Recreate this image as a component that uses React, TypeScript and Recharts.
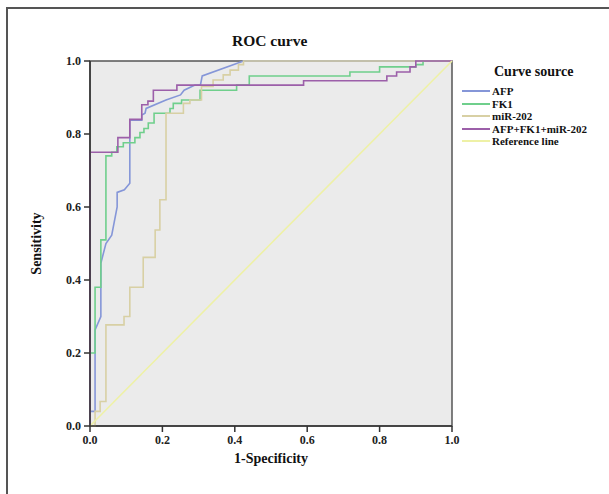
import React from 'react';
import { LineChart, Line, XAxis, YAxis, ReferenceArea } from 'recharts';

// ROC points: false positive rate (x) and sensitivity (y)
const afpX = [0, 0, 0.014, 0.014, 0.03, 0.03, 0.044, 0.06, 0.075, 0.075, 0.095, 0.11, 0.11, 0.143, 0.143, 0.152, 0.155, 0.21, 0.25, 0.26, 0.29, 0.305, 0.31, 0.424, 1];
const afpY = [0, 0.04, 0.04, 0.263, 0.3, 0.446, 0.5, 0.523, 0.6, 0.64, 0.647, 0.665, 0.838, 0.838, 0.852, 0.857, 0.87, 0.893, 0.907, 0.92, 0.934, 0.934, 0.959, 1, 1];

const fk1X = [0, 0, 0.014, 0.03, 0.044, 0.06, 0.074, 0.092, 0.124, 0.138, 0.149, 0.161, 0.177, 0.221, 0.23, 0.253, 0.304, 0.405, 0.44, 0.718, 0.8, 0.9, 0.92, 1];
const fk1Y = [0, 0.2, 0.38, 0.51, 0.74, 0.75, 0.765, 0.776, 0.79, 0.804, 0.815, 0.83, 0.857, 0.87, 0.884, 0.893, 0.92, 0.934, 0.959, 0.97, 0.984, 0.99, 1, 1];

const mirX = [0, 0.014, 0.028, 0.044, 0.094, 0.11, 0.147, 0.18, 0.193, 0.21, 0.258, 0.276, 0.308, 0.34, 0.368, 0.387, 0.41, 0.424, 1];
const mirY = [0, 0.04, 0.067, 0.277, 0.3, 0.38, 0.462, 0.537, 0.62, 0.857, 0.884, 0.893, 0.93, 0.948, 0.962, 0.975, 0.99, 1, 1];

const comboX = [0, 0, 0.077, 0.11, 0.143, 0.16, 0.175, 0.24, 0.59, 0.82, 0.847, 0.884, 0.9, 1];
const comboY = [0, 0.75, 0.79, 0.84, 0.88, 0.89, 0.92, 0.934, 0.946, 0.959, 0.97, 0.984, 1, 1];

const refX = [0, 1];
const refY = [0, 1];

const ticks = [0, 0.2, 0.4, 0.6, 0.8, 1];

const toPoints = (xs: number[], ys: number[]) => xs.map((x, i) => ({ x, y: ys[i] }));

const series = [
  { name: 'AFP', color: '#8596d8', data: toPoints(afpX, afpY), type: 'linear' },
  { name: 'FK1', color: '#6fcf8c', data: toPoints(fk1X, fk1Y), type: 'stepAfter' },
  { name: 'miR-202', color: '#d8d0a4', data: toPoints(mirX, mirY), type: 'stepAfter' },
  { name: 'AFP+FK1+miR-202', color: '#9c5fa9', data: toPoints(comboX, comboY), type: 'stepAfter' },
  { name: 'Reference line', color: '#eef1a6', data: toPoints(refX, refY), type: 'linear' },
];

const font = '"Liberation Serif", "Times New Roman", serif';

function ChartLegend() {
  return (
    <div style={{ position: 'absolute', left: 462, top: 63, fontFamily: font, fontWeight: 'bold', color: '#111' }}>
      <div style={{ fontSize: 14, marginLeft: 32, marginBottom: 4, lineHeight: '18px' }}>Curve source</div>
      {series.map((s) => (
        <div key={s.name} style={{ display: 'flex', alignItems: 'center', height: 12.5, fontSize: 11 }}>
          <span style={{ display: 'inline-block', width: 28, height: 2, background: s.color, marginRight: 2 }} />
          {s.name}
        </div>
      ))}
    </div>
  );
}

export default function App() {
  return (
    <div style={{ position: 'absolute', left: 0, top: 0, width: 609, height: 494, background: '#fff', overflow: 'hidden' }}>
      <div style={{ position: 'absolute', left: 6, top: 7, width: 620, height: 500, borderLeft: '2px solid #555', borderTop: '2px solid #555' }} />
      <div style={{ position: 'absolute', left: 232, top: 32, fontFamily: font, fontWeight: 'bold', fontSize: 15.5, color: '#111' }}>
        ROC curve
      </div>
      <div style={{ position: 'absolute', left: 0, top: 0 }}>
        <LineChart width={609} height={494} margin={{ top: 61, right: 157, bottom: 38, left: 50 }}>
          <XAxis
            type="number"
            dataKey="x"
            domain={[0, 1]}
            ticks={ticks}
            tickFormatter={(v: number) => v.toFixed(1)}
            allowDuplicatedCategory={false}
            height={30}
            tickSize={6}
            tickMargin={3}
            stroke="#333"
            strokeWidth={1.5}
            tick={{ fontFamily: font, fontWeight: 'bold', fontSize: 12, fill: '#222' }}
            label={{ value: '1-Specificity', position: 'insideBottom', offset: -7, style: { fontFamily: font, fontWeight: 'bold', fontSize: 14, fill: '#111' } }}
          />
          <YAxis
            type="number"
            dataKey="y"
            domain={[0, 1]}
            ticks={ticks}
            tickFormatter={(v: number) => v.toFixed(1)}
            width={40}
            tickSize={6}
            tickMargin={3}
            stroke="#333"
            strokeWidth={1.5}
            tick={{ fontFamily: font, fontWeight: 'bold', fontSize: 12, fill: '#222' }}
            label={{ value: 'Sensitivity', angle: -90, position: 'insideLeft', offset: -14, style: { fontFamily: font, fontWeight: 'bold', fontSize: 14, fill: '#111', textAnchor: 'middle' } }}
          />
          <ReferenceArea x1={0} x2={1} y1={0} y2={1} fill="#ebebeb" fillOpacity={1} stroke="#555" strokeWidth={1.5} />
          {series.map((s) => (
            <Line
              key={s.name}
              data={s.data}
              dataKey="y"
              name={s.name}
              type={s.type as any}
              stroke={s.color}
              strokeWidth={1.6}
              dot={false}
              activeDot={false}
              isAnimationActive={false}
            />
          ))}
        </LineChart>
      </div>
      <ChartLegend />
    </div>
  );
}
